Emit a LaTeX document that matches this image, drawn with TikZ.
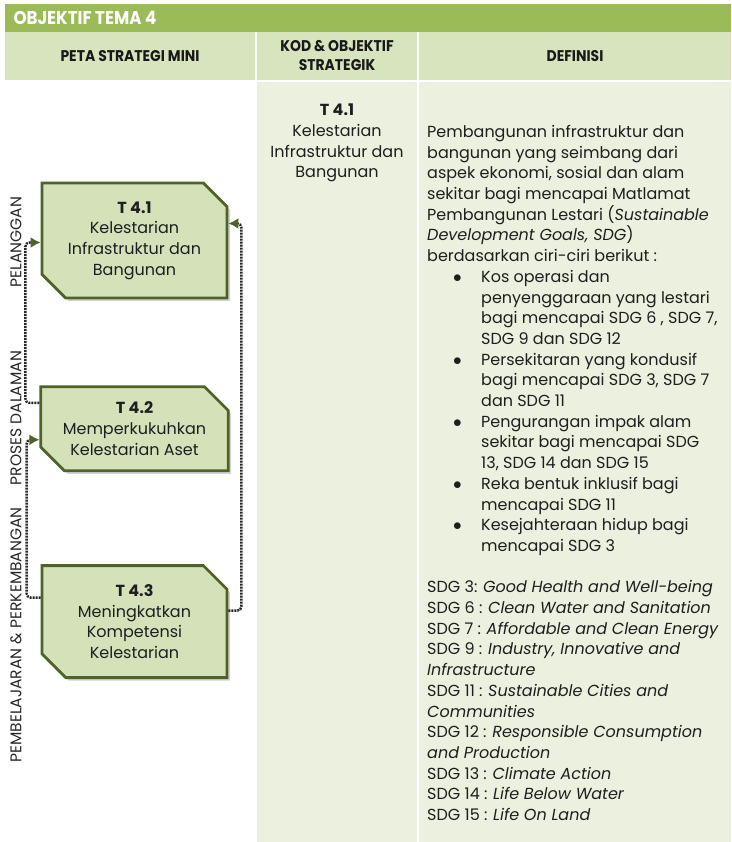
\documentclass[tikz,border=0pt]{standalone}
\usepackage{fontspec}
\setmainfont{Poppins}
\newfontfamily\headfont[FakeStretch=0.9]{Poppins}
\usetikzlibrary{positioning,shapes.misc,shadows,arrows.meta}

\definecolor{temagreen}{HTML}{9BBB59}
\definecolor{headgreen}{HTML}{D7E4BD}
\definecolor{palegreen}{HTML}{EBF1DE}
\definecolor{boxfill}{HTML}{D5E2B9}
\definecolor{boxline}{HTML}{4F6228}
\definecolor{inkgray}{HTML}{1E1E1E}

\newcommand{\bitem}{\makebox[54pt][l]{\hspace*{26pt}$\bullet$}}
\newcommand{\bcont}{\hspace*{54pt}}

\begin{document}
\begin{tikzpicture}[x=1pt,y=-1pt,text=inkgray,
  font=\fontsize{16}{20.7}\selectfont,
  objbox/.style={chamfered rectangle,chamfered rectangle corners={north east,south west},
    chamfered rectangle xsep=20pt,draw=boxline,line width=2.8pt,fill=boxfill,
    minimum width=185pt,align=center,inner sep=2pt,
    drop shadow={shadow xshift=3pt,shadow yshift=-3pt,opacity=0.35}},
  headtext/.style={font=\headfont\bfseries\fontsize{15.5}{19}\selectfont,text=black!90},
  sidetext/.style={rotate=90,font=\fontsize{15.5}{17}\selectfont,text=black!85},
  link/.style={draw=black!85,line width=2.4pt,dash pattern=on 2pt off 1pt,
    rounded corners=4pt,-{Latex[length=10pt,width=11pt,color=boxline]}}]

  \useasboundingbox (0,0) rectangle (731,842);
  % table
  \fill[temagreen] (5,4) rectangle (731,32);
  \fill[headgreen] (5,32) rectangle (731,80);
  \fill[palegreen] (256,80) rectangle (731,842);
  \draw[white,line width=2pt] (256,32) -- (256,842) (418,32) -- (418,842) (5,81) -- (731,81);

  \node[headtext,anchor=west,text=white,font=\headfont\bfseries\fontsize{18.5}{21}\selectfont] (title) at (10,18) {OBJEKTIF TEMA 4};
  \node[headtext] (hpeta) at (130,56) {PETA STRATEGI MINI};
  \node[headtext,align=center] (hkod) at (337,56) {KOD \& OBJEKTIF\\STRATEGIK};
  \node[headtext] (hdef) at (575,56) {DEFINISI};

  % mini strategy map
  \node[objbox,minimum height=115pt] (t41) at (134.5,240.5) {\textbf{T 4.1}\\Kelestarian\\Infrastruktur dan\\Bangunan};
  \node[objbox,minimum height=84pt]  (t42) [below=86pt of t41] {\textbf{T 4.2}\\Memperkukuhkan\\Kelestarian Aset};
  \node[objbox,minimum height=112pt] (t43) [below=92pt of t42] {\textbf{T 4.3}\\Meningkatkan\\Kompetensi\\Kelestarian};

  \node[sidetext] (pel) at (16,242) {PELANGGAN};
  \node[sidetext] (pro) at (16,418) {PROSES DALAMAN};
  \node[sidetext] (pem) at (16,635) {PEMBELAJARAN \& PERKEMBANGAN};

  \draw[link] ([yshift=26pt]t42.west) -- ++(-14pt,0) |- ([yshift=-2pt]t41.west);
  \draw[link] ([yshift=24pt]t43.west) -- ++(-14pt,0) |- ([yshift=-11pt]t42.west);
  \draw[link] ([yshift=11pt]t43.east) -- ++(13pt,0) |- ([yshift=17pt]t41.east);

  % code and definition
  \node[align=center] (kod) at (337,143) {\textbf{T 4.1}\\Kelestarian\\Infrastruktur dan\\Bangunan};

  \node[anchor=north west,align=left,inner sep=0pt] (def) at (427,125) {%
    Pembangunan infrastruktur dan\\
    bangunan yang seimbang dari\\
    aspek ekonomi, sosial dan alam\\
    sekitar bagi mencapai Matlamat\\
    Pembangunan Lestari (\textit{Sustainable}\\
    \textit{Development Goals, SDG})\\
    berdasarkan ciri-ciri berikut :\\
    \bitem Kos operasi dan\\
    \bcont penyenggaraan yang lestari\\
    \bcont bagi mencapai SDG 6 , SDG 7,\\
    \bcont SDG 9 dan SDG 12\\
    \bitem Persekitaran yang kondusif\\
    \bcont bagi mencapai  SDG 3, SDG 7\\
    \bcont dan SDG 11\\
    \bitem Pengurangan impak alam\\
    \bcont sekitar bagi mencapai  SDG\\
    \bcont 13, SDG 14 dan SDG 15\\
    \bitem Reka bentuk inklusif bagi\\
    \bcont mencapai  SDG 11\\
    \bitem Kesejahteraan hidup bagi\\
    \bcont mencapai SDG 3\\[20.7pt]
    SDG 3: \textit{Good Health and Well-being}\\
    SDG 6 : \textit{Clean Water and Sanitation}\\
    SDG 7 : \textit{Affordable and Clean Energy}\\
    SDG 9 : \textit{Industry, Innovative and}\\
    \textit{Infrastructure}\\
    SDG 11 : \textit{Sustainable Cities and}\\
    \textit{Communities}\\
    SDG 12 : \textit{Responsible Consumption}\\
    \textit{and Production}\\
    SDG 13 : \textit{Climate Action}\\
    SDG 14 : \textit{Life Below Water}\\
    SDG 15 : \textit{Life On Land}};
\end{tikzpicture}
\end{document}
